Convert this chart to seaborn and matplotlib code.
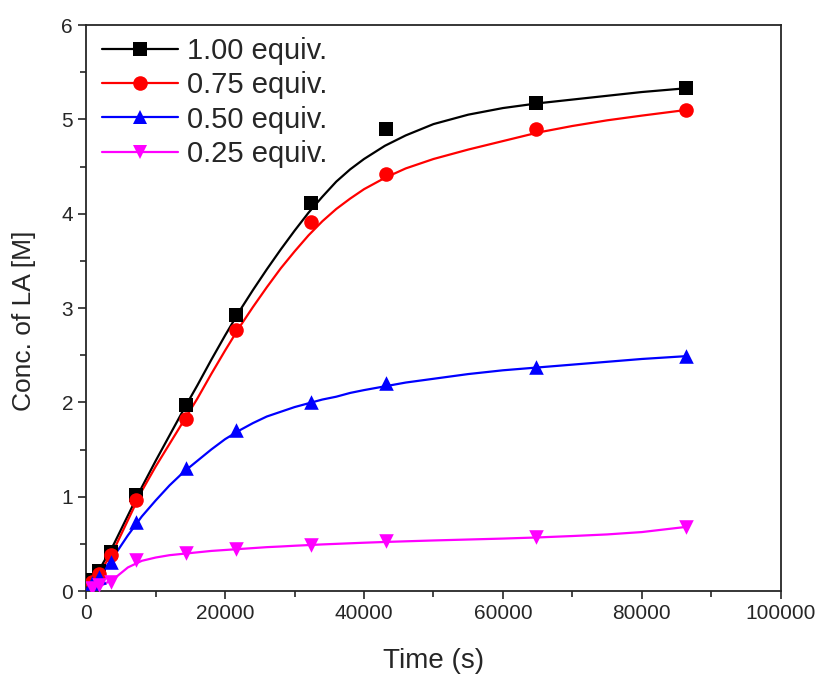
import numpy as np
import pandas as pd
import seaborn as sns
import matplotlib
matplotlib.use('Agg')
import matplotlib.pyplot as plt
from matplotlib.lines import Line2D
from matplotlib.ticker import MultipleLocator

# --- 数据 ---
SAMPLE_TIME = [900, 1800, 3600, 7200, 14400, 21600, 32400, 43200, 64800, 86400]
CONC_100 = [0.12, 0.21, 0.41, 1.02, 1.97, 2.93, 4.11, 4.90, 5.17, 5.33]
CONC_075 = [0.10, 0.18, 0.38, 0.97, 1.82, 2.77, 3.91, 4.42, 4.90, 5.10]
CONC_050 = [0.08, 0.15, 0.31, 0.73, 1.30, 1.71, 2.00, 2.21, 2.37, 2.49]
CONC_025 = [0.03, 0.06, 0.10, 0.33, 0.40, 0.45, 0.49, 0.53, 0.57, 0.68]

# 拟合曲线
FIT_TIME = [0, 2000, 4000, 6000, 8000, 10000, 12000, 14000, 16000, 18000, 20000,
            22000, 24000, 26000, 28000, 30000, 32000, 34000, 36000, 38000, 40000,
            43000, 46000, 50000, 55000, 60000, 65000, 70000, 75000, 80000, 86400]
FIT_100 = [0.08, 0.24, 0.50, 0.80, 1.10, 1.38, 1.65, 1.92, 2.18, 2.45, 2.71,
           2.96, 3.19, 3.41, 3.62, 3.82, 4.01, 4.18, 4.34, 4.47, 4.58,
           4.72, 4.83, 4.95, 5.05, 5.12, 5.17, 5.21, 5.25, 5.29, 5.33]
FIT_075 = [0.06, 0.20, 0.44, 0.75, 1.06, 1.32, 1.56, 1.80, 2.04, 2.30, 2.55,
           2.79, 3.01, 3.22, 3.42, 3.60, 3.77, 3.92, 4.05, 4.16, 4.26,
           4.38, 4.48, 4.58, 4.68, 4.77, 4.86, 4.93, 4.99, 5.04, 5.10]
FIT_050 = [0.04, 0.17, 0.37, 0.59, 0.79, 0.96, 1.12, 1.26, 1.38, 1.50, 1.61,
           1.70, 1.78, 1.85, 1.90, 1.95, 1.99, 2.03, 2.06, 2.10, 2.13,
           2.17, 2.21, 2.25, 2.30, 2.34, 2.37, 2.40, 2.43, 2.46, 2.49]
FIT_025 = [0.02, 0.05, 0.13, 0.25, 0.32, 0.355, 0.38, 0.395, 0.41, 0.425, 0.435,
           0.445, 0.455, 0.465, 0.472, 0.48, 0.487, 0.494, 0.50, 0.506, 0.512,
           0.52, 0.527, 0.536, 0.546, 0.556, 0.568, 0.583, 0.60, 0.625, 0.68]

LABELS = ['1.00 equiv.', '0.75 equiv.', '0.50 equiv.', '0.25 equiv.']
COLORS = ['#000000', '#ff0000', '#0000ff', '#ff00ff']
MARKERS = ['s', 'o', '^', 'v']

# --- 绘图 ---
sns.set_style('ticks')
plt.rcParams['font.family'] = ['Liberation Sans', 'DejaVu Sans']

fig = plt.figure(figsize=(8.21, 6.77), dpi=100)
ax = fig.add_axes([0.105, 0.127, 0.846, 0.836])

pts = [CONC_100, CONC_075, CONC_050, CONC_025]
fits = [FIT_100, FIT_075, FIT_050, FIT_025]
handles = []
for lab, col, mk, p, f in zip(LABELS, COLORS, MARKERS, pts, fits):
    df_fit = pd.DataFrame({'t': FIT_TIME, 'c': f})
    df_pt = pd.DataFrame({'t': SAMPLE_TIME, 'c': p})
    sns.lineplot(data=df_fit, x='t', y='c', color=col, linewidth=1.6, ax=ax,
                 legend=False, zorder=2)
    sns.scatterplot(data=df_pt, x='t', y='c', color=col, marker=mk, s=110,
                    edgecolor=col, linewidth=0, ax=ax, legend=False, zorder=3)
    handles.append(Line2D([], [], color=col, lw=1.6, marker=mk, markersize=10.5,
                          markeredgewidth=0, label=lab))

ax.set_xlim(0, 100000)
ax.set_ylim(0, 6)
ax.xaxis.set_major_locator(MultipleLocator(20000))
ax.xaxis.set_minor_locator(MultipleLocator(10000))
ax.yaxis.set_major_locator(MultipleLocator(1))
ax.yaxis.set_minor_locator(MultipleLocator(0.5))
ax.tick_params(which='major', direction='out', length=6, width=1.2,
               labelsize=15, top=False, right=False)
ax.tick_params(which='minor', direction='out', length=4, width=1.2,
               top=False, right=False)
for sp in ax.spines.values():
    sp.set_linewidth(1.3)
    sp.set_visible(True)

ax.set_xlabel('Time (s)', fontsize=20, labelpad=18)
ax.set_ylabel('Conc. of LA [M]', fontsize=19)
ax.yaxis.set_label_coords(-0.073, 0.478)

ax.legend(handles=handles, loc='upper left', bbox_to_anchor=(0.006, 1.0),
          frameon=False, fontsize=21, handlelength=2.6, handletextpad=0.3,
          labelspacing=0.22, borderaxespad=0.0)

plt.savefig('out.png', dpi=100)
